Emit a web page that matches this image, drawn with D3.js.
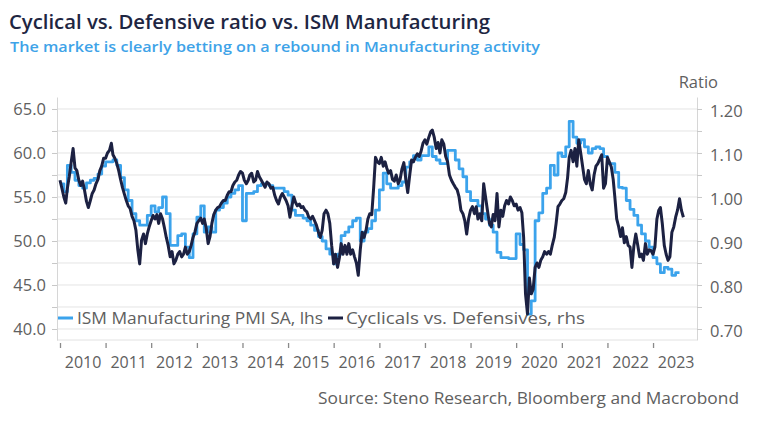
<!DOCTYPE html>
<html><head><meta charset="utf-8">
<script src="https://cdn.jsdelivr.net/npm/d3@7/dist/d3.min.js"></script>
<style>body{margin:0;background:#fff}svg{display:block}text{font-family:"Open Sans",sans-serif}</style>
</head><body><svg id="c" width="758" height="421"></svg>
<script>
// ISM Manufacturing PMI SA, monthly from Jan 2010 (lhs)
const ismStart = [2010, 0];
const ismValues = [
 56.5,55.6,58.6,57.8,56.9,56.3,56.0,56.6,56.9,57.1,57.6,58.5,
 59.0,59.0,59.2,58.6,57.2,55.8,54.6,53.1,52.3,51.8,51.8,52.9,
 54.0,53.3,53.8,55.0,53.1,49.5,49.5,50.6,50.8,49.3,48.1,50.8,
 52.7,54.0,51.0,51.6,51.0,53.5,53.8,54.3,55.0,55.4,55.8,56.3,
 52.3,55.4,55.4,55.6,56.3,56.5,56.5,56.3,56.0,56.0,56.0,55.6,
 55.2,53.5,52.9,52.9,52.6,52.3,51.8,51.2,50.5,50.0,49.1,48.5,
 47.4,48.5,50.6,51.0,51.6,52.3,52.6,50.0,51.0,51.4,52.3,53.5,
 55.8,57.7,56.5,56.0,56.0,56.3,56.7,58.4,59.0,59.7,59.2,59.7,
 59.7,60.7,59.6,59.2,58.8,58.8,60.3,60.3,59.2,58.2,57.3,55.6,
 54.6,54.6,54.0,53.1,52.5,51.8,51.0,48.7,48.1,48.1,48.0,48.0,
 50.8,49.6,49.0,41.7,43.2,52.3,53.2,55.4,56.0,58.6,57.5,60.0,
 59.6,60.7,63.6,61.8,61.1,61.5,60.7,60.0,60.5,60.7,60.5,59.6,
 58.8,58.8,57.8,56.1,56.0,54.6,53.6,52.9,51.8,50.8,50.0,49.3,
 48.1,47.4,46.4,47.0,46.8,46.1,46.4
];
// Cyclicals vs. Defensives ratio, semi-monthly from Jan 2010 (rhs)
const ratioValues = [
 1.038,1.02,1.00,0.986,1.02,1.046,1.08,1.11,1.066,1.06,1.038,1.026,1.036,1.016,0.99,0.976,0.992,1.008,1.016,1.03,1.04,1.06,1.07,1.088,
 1.088,1.10,1.106,1.122,1.096,1.088,1.076,1.06,1.04,1.022,1.006,0.992,0.98,0.974,0.956,0.946,0.924,0.88,0.848,0.902,0.916,0.894,0.916,0.932,
 0.946,0.958,0.95,0.96,0.94,0.962,0.95,0.93,0.908,0.89,0.864,0.876,0.848,0.856,0.87,0.876,0.864,0.87,0.886,0.87,0.876,0.89,0.908,0.92,
 0.94,0.946,0.952,0.94,0.95,0.93,0.894,0.91,0.94,0.96,0.97,0.976,0.978,0.986,0.992,0.992,1.004,1.012,1.012,1.026,1.034,1.038,1.05,1.058,
 1.054,1.038,1.03,1.038,1.05,1.054,1.034,1.038,1.058,1.046,1.038,1.03,1.022,1.034,1.03,1.02,1.022,1.004,0.992,0.984,1.00,1.008,1.00,0.992,
 0.98,0.954,0.98,1.00,0.988,0.98,0.984,0.976,0.978,0.97,0.966,0.954,0.95,0.956,0.946,0.936,0.92,0.908,0.924,0.962,0.97,0.962,0.94,0.89,
 0.848,0.87,0.84,0.862,0.894,0.87,0.89,0.87,0.894,0.87,0.88,0.864,0.85,0.822,0.88,0.92,0.908,0.924,0.95,0.962,0.96,1.02,1.09,1.08,
 1.076,1.09,1.07,1.08,1.066,1.054,1.06,1.04,1.036,1.05,1.03,1.04,1.064,1.078,1.04,1.01,1.05,1.084,1.08,1.09,1.098,1.092,1.104,1.122,
 1.13,1.12,1.136,1.148,1.152,1.136,1.11,1.124,1.10,1.13,1.12,1.092,1.08,1.05,1.038,1.03,1.022,1.016,1.00,0.97,0.962,0.946,0.916,0.95,
 0.97,0.978,0.962,0.978,0.95,0.962,0.946,1.03,1.00,0.97,0.94,0.932,0.96,0.946,1.008,0.932,0.97,0.956,0.98,0.992,0.984,1.00,0.992,0.98,
 0.984,0.97,0.976,0.964,0.908,0.78,0.734,0.816,0.78,0.79,0.84,0.85,0.84,0.856,0.864,0.876,0.87,0.876,0.87,0.89,0.908,0.94,0.978,0.984,
 0.992,0.996,1.01,1.044,1.09,1.106,1.08,1.11,1.07,1.13,1.10,1.07,1.04,1.03,1.06,1.03,1.016,1.05,1.07,1.076,1.086,1.096,1.02,1.03,
 1.09,1.08,1.068,1.04,1.00,0.95,0.932,0.91,0.93,0.896,0.91,0.89,0.886,0.84,0.89,0.916,0.89,0.864,0.87,0.856,0.894,0.87,0.88,0.878,
 0.87,0.886,0.95,0.97,0.976,0.94,0.89,0.87,0.856,0.864,0.92,0.932,0.954,0.97,0.996,0.97,0.954
];
const years = d3.range(2010, 2024);
const leftTicks = [40, 42.5, 45, 47.5, 50, 52.5, 55, 57.5, 60, 62.5, 65];
const rightTicks = [0.70, 0.75, 0.80, 0.85, 0.90, 0.95, 1.00, 1.05, 1.10, 1.15, 1.20];
const titleText = "Cyclical vs. Defensive ratio vs. ISM Manufacturing";
const subtitleText = "The market is clearly betting on a rebound in Manufacturing activity";
const legendNames = ["ISM Manufacturing PMI SA, lhs", "Cyclicals vs. Defensives, rhs"];
const sourceText = "Source: Steno Research, Bloomberg and Macrobond";

const ismColor = "#3ba3ec", ratioColor = "#1c2142", gray = "#606060";
const L = 57, R = 697, T = 97, B = 340;

const svg = d3.select("#c");
svg.append("rect").attr("width", 758).attr("height", 421).attr("fill", "#fff");

const x = d3.scaleTime().domain([new Date(2009, 11, 8), new Date(2023, 11, 19)]).range([L, R]);
const yL = d3.scaleLinear().domain([38.75, 66.36]).range([B, T]);
const yR = d3.scaleLinear().domain([0.675, 1.2272]).range([B, T]);

// title
svg.append("text").attr("x", 9).attr("y", 29).text(titleText)
  .attr("font-size", 19.5).attr("font-weight", 600).attr("fill", "#1e2642")
  .attr("textLength", 481).attr("lengthAdjust", "spacingAndGlyphs");
svg.append("text").attr("x", 10).attr("y", 52).text(subtitleText)
  .attr("font-size", 14.5).attr("font-weight", 600).attr("fill", "#3ea3e8")
  .attr("textLength", 530).attr("lengthAdjust", "spacingAndGlyphs");
svg.append("text").attr("x", 718).attr("y", 88).attr("text-anchor", "end")
  .attr("font-size", 16.5).attr("fill", gray).text("Ratio");

// gridlines
svg.append("g").selectAll("line").data(leftTicks).join("line")
  .attr("x1", L).attr("x2", R).attr("y1", d => yL(d)).attr("y2", d => yL(d))
  .attr("stroke", "#e4e4e4").attr("stroke-width", 1);
svg.append("line").attr("x1", L).attr("x2", R).attr("y1", B).attr("y2", B)
  .attr("stroke", "#e2e2e2");

// left axis
const gL = svg.append("g").attr("transform", `translate(${L},0)`)
  .call(d3.axisLeft(yL).tickValues(leftTicks).tickSizeInner(5).tickSizeOuter(0)
    .tickFormat(d => d % 5 === 0 ? d3.format(".1f")(d) : ""));
gL.select(".domain").attr("stroke", "#d6d6d6");
gL.selectAll(".tick line").attr("stroke", "#c8c8c8");
gL.selectAll(".tick text").attr("font-size", 16.5).attr("fill", gray)
  .attr("font-family", "Open Sans").attr("x", -11);

// right axis
const gR = svg.append("g").attr("transform", `translate(${R},0)`)
  .call(d3.axisRight(yR).tickValues(rightTicks).tickSizeInner(5).tickSizeOuter(0)
    .tickFormat(d => Math.round(d * 100) % 10 === 0 ? d3.format(".2f")(d) : ""));
gR.select(".domain").attr("stroke", "#d6d6d6");
gR.selectAll(".tick line").attr("stroke", "#c8c8c8");
gR.selectAll(".tick text").attr("font-size", 16.5).attr("fill", gray)
  .attr("font-family", "Open Sans").attr("x", 13).attr("dy", "0.45em");

// x axis ticks at year starts
const gX = svg.append("g").attr("transform", `translate(0,${B + 3})`)
  .call(d3.axisBottom(x).tickValues(years.map(y => new Date(y, 0, 1))).tickSize(5).tickFormat(""));
gX.select(".domain").remove();
gX.selectAll(".tick line").attr("stroke", "#8a8a8a").attr("stroke-width", 1.3);
// labels at mid-year
const gX2 = svg.append("g").attr("transform", `translate(0,${B + 14})`)
  .call(d3.axisBottom(x).tickValues(years.map(y => new Date(y, 6, 1))).tickSize(0)
    .tickFormat(d3.timeFormat("%Y")));
gX2.select(".domain").remove();
gX2.selectAll(".tick text").attr("font-size", 16).attr("fill", gray).attr("font-family", "Open Sans");

// legend
const legY = 318;
svg.append("line").attr("x1", 58).attr("x2", 73).attr("y1", legY).attr("y2", legY)
  .attr("stroke", ismColor).attr("stroke-width", 3);
svg.append("text").attr("x", 77).attr("y", legY + 6).attr("font-size", 16.5).attr("fill", gray)
  .text(legendNames[0]).attr("textLength", 246).attr("lengthAdjust", "spacingAndGlyphs");
svg.append("line").attr("x1", 328).attr("x2", 343).attr("y1", legY).attr("y2", legY)
  .attr("stroke", ratioColor).attr("stroke-width", 3);
svg.append("text").attr("x", 346).attr("y", legY + 6).attr("font-size", 16.5).attr("fill", gray)
  .text(legendNames[1]).attr("textLength", 239).attr("lengthAdjust", "spacingAndGlyphs");

// ISM step line
const ismData = ismValues.map((v, i) => ({ d: new Date(ismStart[0], ismStart[1] + i, 1), v }));
const ismDraw = ismData.concat([{ d: new Date(ismStart[0], ismStart[1] + ismValues.length, 1), v: ismValues[ismValues.length - 1] }]);
svg.append("path").datum(ismDraw)
  .attr("d", d3.line().x(p => x(p.d)).y(p => yL(p.v)).curve(d3.curveStepAfter))
  .attr("fill", "none").attr("stroke", ismColor).attr("stroke-width", 2.8).attr("stroke-linejoin", "round");

// ratio line
const ratioData = ratioValues.map((v, k) => ({ d: new Date(2010 + Math.floor(k / 24), Math.floor((k % 24) / 2), k % 2 ? 16 : 1), v }));
svg.append("path").datum(ratioData)
  .attr("d", d3.line().x(p => x(p.d)).y(p => yR(p.v)))
  .attr("fill", "none").attr("stroke", ratioColor).attr("stroke-width", 3).attr("stroke-linejoin", "round");

// source
svg.append("text").attr("x", 739).attr("y", 404).attr("text-anchor", "end")
  .attr("font-size", 16.5).attr("fill", gray).text(sourceText)
  .attr("textLength", 421).attr("lengthAdjust", "spacingAndGlyphs");
</script></body></html>
